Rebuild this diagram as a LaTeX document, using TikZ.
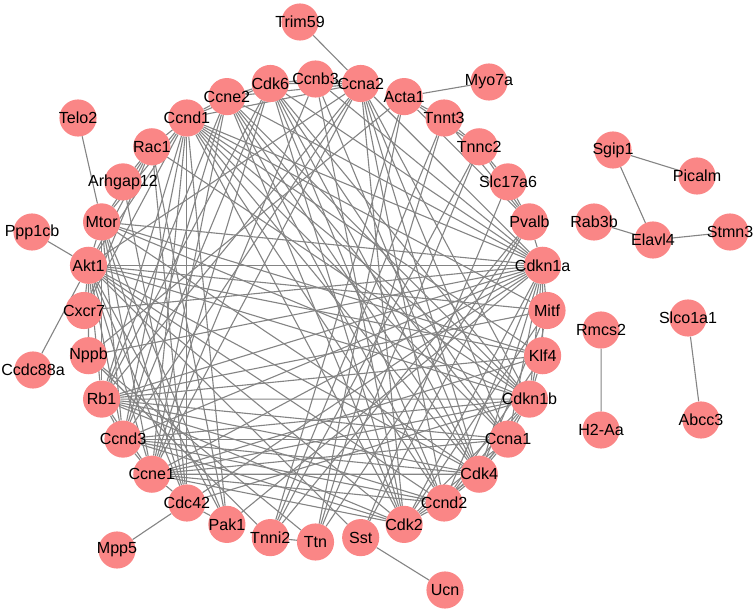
\documentclass[tikz,border=0pt]{standalone}
\usepackage{fontspec}
\setmainfont{Liberation Sans}
\usepackage{tikz}
\definecolor{genepink}{RGB}{250,134,134}
\definecolor{linkgray}{RGB}{132,132,132}
\pgfdeclarelayer{background}
\pgfsetlayers{background,main}

\begin{document}
\begin{tikzpicture}[scale=0.35]
\tikzstyle{every node}+=[inner sep=0pt]
\tikzstyle{gene}=[circle,fill=genepink,minimum size=1.3cm]
\tikzstyle{genetext}=[font=\fontsize{16}{19}\selectfont]
\tikzstyle{link}=[linkgray,line width=1.1pt]
\useasboundingbox (0,0) rectangle (75.6,-61.3);
% ring
\node [gene] (Ccnb3) at (31.55,-7.90) {};
\node [gene] (Ccna2) at (36.07,-8.35) {};
\node [gene] (Acta1) at (40.41,-9.66) {};
\node [gene] (Tnnt3) at (44.41,-11.80) {};
\node [gene] (Tnnc2) at (47.92,-14.68) {};
\node [gene] (Slc17a6) at (50.80,-18.19) {};
\node [gene] (Pvalb) at (52.94,-22.19) {};
\node [gene] (Cdkn1a) at (54.26,-26.53) {};
\node [gene] (Mitf) at (54.70,-31.05) {};
\node [gene] (Klf4) at (54.26,-35.57) {};
\node [gene] (Cdkn1b) at (52.94,-39.91) {};
\node [gene] (Ccna1) at (50.80,-43.91) {};
\node [gene] (Cdk4) at (47.92,-47.42) {};
\node [gene] (Ccnd2) at (44.41,-50.30) {};
\node [gene] (Cdk2) at (40.41,-52.44) {};
\node [gene] (Sst) at (36.07,-53.76) {};
\node [gene] (Ttn) at (31.55,-54.20) {};
\node [gene] (Tnni2) at (27.03,-53.76) {};
\node [gene] (Pak1) at (22.69,-52.44) {};
\node [gene] (Cdc42) at (18.69,-50.30) {};
\node [gene] (Ccne1) at (15.18,-47.42) {};
\node [gene] (Ccnd3) at (12.30,-43.91) {};
\node [gene] (Rb1) at (10.16,-39.91) {};
\node [gene] (Nppb) at (8.85,-35.57) {};
\node [gene] (Cxcr7) at (8.40,-31.05) {};
\node [gene] (Akt1) at (8.85,-26.53) {};
\node [gene] (Mtor) at (10.16,-22.19) {};
\node [gene] (Arhgap12) at (12.30,-18.19) {};
\node [gene] (Rac1) at (15.18,-14.68) {};
\node [gene] (Ccnd1) at (18.69,-11.80) {};
\node [gene] (Ccne2) at (22.69,-9.66) {};
\node [gene] (Cdk6) at (27.03,-8.35) {};
% outside the ring
\node [gene] (Trim59) at (30.0,-2.2) {};
\node [gene] (Myo7a) at (48.9,-8.2) {};
\node [gene] (Telo2) at (7.8,-11.8) {};
\node [gene] (Ppp1cb) at (3.2,-23.2) {};
\node [gene] (Ccdc88a) at (3.3,-37.0) {};
\node [gene] (Mpp5) at (11.7,-55.0) {};
\node [gene] (Ucn) at (44.5,-59.0) {};
\node [gene] (Sgip1) at (61.3,-15.0) {};
\node [gene] (Picalm) at (69.7,-17.6) {};
\node [gene] (Rab3b) at (59.4,-22.2) {};
\node [gene] (Elavl4) at (65.3,-24.0) {};
\node [gene] (Stmn3) at (73.0,-23.2) {};
\node [gene] (Rmcs2) at (60.1,-33.0) {};
\node [gene] (Slco1a1) at (68.8,-31.8) {};
\node [gene] (H2Aa) at (60.1,-43.0) {};
\node [gene] (Abcc3) at (70.1,-42.0) {};
% labels
\node [genetext] (tCcnb3) at (Ccnb3) {Ccnb3};
\node [genetext] (tCcna2) at (Ccna2) {Ccna2};
\node [genetext] (tActa1) at (Acta1) {Acta1};
\node [genetext] (tTnnt3) at (Tnnt3) {Tnnt3};
\node [genetext] (tTnnc2) at (Tnnc2) {Tnnc2};
\node [genetext] (tSlc17a6) at (Slc17a6) {Slc17a6};
\node [genetext] (tPvalb) at (Pvalb) {Pvalb};
\node [genetext] (tCdkn1a) at (Cdkn1a) {Cdkn1a};
\node [genetext] (tMitf) at (Mitf) {Mitf};
\node [genetext] (tKlf4) at (Klf4) {Klf4};
\node [genetext] (tCdkn1b) at (Cdkn1b) {Cdkn1b};
\node [genetext] (tCcna1) at (Ccna1) {Ccna1};
\node [genetext] (tCdk4) at (Cdk4) {Cdk4};
\node [genetext] (tCcnd2) at (Ccnd2) {Ccnd2};
\node [genetext] (tCdk2) at (Cdk2) {Cdk2};
\node [genetext] (tSst) at (Sst) {Sst};
\node [genetext] (tTtn) at (Ttn) {Ttn};
\node [genetext] (tTnni2) at (Tnni2) {Tnni2};
\node [genetext] (tPak1) at (Pak1) {Pak1};
\node [genetext] (tCdc42) at (Cdc42) {Cdc42};
\node [genetext] (tCcne1) at (Ccne1) {Ccne1};
\node [genetext] (tCcnd3) at (Ccnd3) {Ccnd3};
\node [genetext] (tRb1) at (Rb1) {Rb1};
\node [genetext] (tNppb) at (Nppb) {Nppb};
\node [genetext] (tCxcr7) at (Cxcr7) {Cxcr7};
\node [genetext] (tAkt1) at (Akt1) {Akt1};
\node [genetext] (tMtor) at (Mtor) {Mtor};
\node [genetext] (tArhgap12) at (Arhgap12) {Arhgap12};
\node [genetext] (tRac1) at (Rac1) {Rac1};
\node [genetext] (tCcnd1) at (Ccnd1) {Ccnd1};
\node [genetext] (tCcne2) at (Ccne2) {Ccne2};
\node [genetext] (tCdk6) at (Cdk6) {Cdk6};
\node [genetext] (tTrim59) at (Trim59) {Trim59};
\node [genetext] (tMyo7a) at (Myo7a) {Myo7a};
\node [genetext] (tTelo2) at (Telo2) {Telo2};
\node [genetext] (tPpp1cb) at (Ppp1cb) {Ppp1cb};
\node [genetext] (tCcdc88a) at (Ccdc88a) {Ccdc88a};
\node [genetext] (tMpp5) at (Mpp5) {Mpp5};
\node [genetext] (tUcn) at (Ucn) {Ucn};
\node [genetext] (tSgip1) at (Sgip1) {Sgip1};
\node [genetext] (tPicalm) at (Picalm) {Picalm};
\node [genetext] (tRab3b) at (Rab3b) {Rab3b};
\node [genetext] (tElavl4) at (Elavl4) {Elavl4};
\node [genetext] (tStmn3) at (Stmn3) {Stmn3};
\node [genetext] (tRmcs2) at (Rmcs2) {Rmcs2};
\node [genetext] (tSlco1a1) at (Slco1a1) {Slco1a1};
\node [genetext] (tH2Aa) at (H2Aa) {H2-Aa};
\node [genetext] (tAbcc3) at (Abcc3) {Abcc3};
% interactions
\begin{pgfonlayer}{background}
\draw [link] (Ccna2) -- (Cdkn1a);
\draw [link] (Ccna2) -- (Cdkn1b);
\draw [link] (Ccna2) -- (Ccna1);
\draw [link] (Ccna2) -- (Cdk4);
\draw [link] (Ccna2) -- (Ccnd2);
\draw [link] (Ccna2) -- (Cdk2);
\draw [link] (Ccna2) -- (Ccne1);
\draw [link] (Ccna2) -- (Ccnd3);
\draw [link] (Ccna2) -- (Rb1);
\draw [link] (Ccna2) -- (Ccnd1);
\draw [link] (Ccna2) -- (Ccne2);
\draw [link] (Ccna2) -- (Cdk6);
\draw [link] (Ccna2) -- (Ccnb3);
\draw [link] (Ccna2) -- (Trim59);
\draw [link] (Ccna2) -- (Akt1);
\draw [link] (Cdkn1a) -- (Cdkn1b);
\draw [link] (Cdkn1a) -- (Ccna1);
\draw [link] (Cdkn1a) -- (Cdk4);
\draw [link] (Cdkn1a) -- (Ccnd2);
\draw [link] (Cdkn1a) -- (Cdk2);
\draw [link] (Cdkn1a) -- (Ccne1);
\draw [link] (Cdkn1a) -- (Ccnd3);
\draw [link] (Cdkn1a) -- (Rb1);
\draw [link] (Cdkn1a) -- (Ccnd1);
\draw [link] (Cdkn1a) -- (Ccne2);
\draw [link] (Cdkn1a) -- (Cdk6);
\draw [link] (Cdkn1a) -- (Ccnb3);
\draw [link] (Cdkn1a) -- (Akt1);
\draw [link] (Cdkn1a) -- (Mtor);
\draw [link] (Cdkn1a) -- (Mitf);
\draw [link] (Cdkn1a) -- (Klf4);
\draw [link] (Cdkn1a) -- (Cdc42);
\draw [link] (Cdkn1a) -- (Pak1);
\draw [link] (Cdkn1a) -- (Cxcr7);
\draw [link] (Cdkn1a) -- (Nppb);
\draw [link] (Cdkn1a) -- (Pvalb);
\draw [link] (Cdkn1b) -- (Ccna1);
\draw [link] (Cdkn1b) -- (Cdk4);
\draw [link] (Cdkn1b) -- (Ccnd2);
\draw [link] (Cdkn1b) -- (Cdk2);
\draw [link] (Cdkn1b) -- (Ccne1);
\draw [link] (Cdkn1b) -- (Ccnd3);
\draw [link] (Cdkn1b) -- (Rb1);
\draw [link] (Cdkn1b) -- (Ccnd1);
\draw [link] (Cdkn1b) -- (Ccne2);
\draw [link] (Cdkn1b) -- (Cdk6);
\draw [link] (Cdkn1b) -- (Akt1);
\draw [link] (Cdkn1b) -- (Mtor);
\draw [link] (Cdkn1b) -- (Klf4);
\draw [link] (Cdkn1b) -- (Mitf);
\draw [link] (Cdkn1b) -- (Rac1);
\draw [link] (Cdkn1b) -- (Cdc42);
\draw [link] (Ccna1) -- (Cdk4);
\draw [link] (Ccna1) -- (Ccnd2);
\draw [link] (Ccna1) -- (Cdk2);
\draw [link] (Ccna1) -- (Ccne1);
\draw [link] (Ccna1) -- (Ccnd3);
\draw [link] (Ccna1) -- (Rb1);
\draw [link] (Ccna1) -- (Ccnd1);
\draw [link] (Ccna1) -- (Ccne2);
\draw [link] (Ccna1) -- (Cdk6);
\draw [link] (Cdk4) -- (Ccnd2);
\draw [link] (Cdk4) -- (Cdk2);
\draw [link] (Cdk4) -- (Ccne1);
\draw [link] (Cdk4) -- (Ccnd3);
\draw [link] (Cdk4) -- (Rb1);
\draw [link] (Cdk4) -- (Ccnd1);
\draw [link] (Cdk4) -- (Ccne2);
\draw [link] (Cdk4) -- (Cdk6);
\draw [link] (Cdk4) -- (Akt1);
\draw [link] (Cdk4) -- (Mtor);
\draw [link] (Cdk4) -- (Mitf);
\draw [link] (Cdk4) -- (Ccnb3);
\draw [link] (Ccnd2) -- (Cdk2);
\draw [link] (Ccnd2) -- (Ccne1);
\draw [link] (Ccnd2) -- (Ccnd3);
\draw [link] (Ccnd2) -- (Rb1);
\draw [link] (Ccnd2) -- (Ccnd1);
\draw [link] (Ccnd2) -- (Ccne2);
\draw [link] (Ccnd2) -- (Cdk6);
\draw [link] (Ccnd2) -- (Klf4);
\draw [link] (Ccnd2) -- (Akt1);
\draw [link] (Cdk2) -- (Ccne1);
\draw [link] (Cdk2) -- (Ccnd3);
\draw [link] (Cdk2) -- (Rb1);
\draw [link] (Cdk2) -- (Ccnd1);
\draw [link] (Cdk2) -- (Ccne2);
\draw [link] (Cdk2) -- (Cdk6);
\draw [link] (Cdk2) -- (Ccnb3);
\draw [link] (Cdk2) -- (Akt1);
\draw [link] (Cdk2) -- (Mitf);
\draw [link] (Ccne1) -- (Ccnd3);
\draw [link] (Ccne1) -- (Rb1);
\draw [link] (Ccne1) -- (Ccnd1);
\draw [link] (Ccne1) -- (Ccne2);
\draw [link] (Ccne1) -- (Cdk6);
\draw [link] (Ccne1) -- (Akt1);
\draw [link] (Ccne1) -- (Mtor);
\draw [link] (Ccne1) -- (Cdc42);
\draw [link] (Ccne1) -- (Ccnb3);
\draw [link] (Ccne1) -- (Klf4);
\draw [link] (Ccnd3) -- (Rb1);
\draw [link] (Ccnd3) -- (Ccnd1);
\draw [link] (Ccnd3) -- (Ccne2);
\draw [link] (Ccnd3) -- (Cdk6);
\draw [link] (Ccnd3) -- (Akt1);
\draw [link] (Ccnd3) -- (Mtor);
\draw [link] (Rb1) -- (Ccnd1);
\draw [link] (Rb1) -- (Ccne2);
\draw [link] (Rb1) -- (Cdk6);
\draw [link] (Rb1) -- (Akt1);
\draw [link] (Rb1) -- (Mtor);
\draw [link] (Rb1) -- (Mitf);
\draw [link] (Rb1) -- (Klf4);
\draw [link] (Ccnd1) -- (Ccne2);
\draw [link] (Ccnd1) -- (Cdk6);
\draw [link] (Ccnd1) -- (Akt1);
\draw [link] (Ccnd1) -- (Mtor);
\draw [link] (Ccnd1) -- (Rac1);
\draw [link] (Ccnd1) -- (Cdc42);
\draw [link] (Ccnd1) -- (Pak1);
\draw [link] (Ccnd1) -- (Mitf);
\draw [link] (Ccnd1) -- (Klf4);
\draw [link] (Ccnd1) -- (Cxcr7);
\draw [link] (Ccne2) -- (Cdk6);
\draw [link] (Cdk6) -- (Ccnb3);
\draw [link] (Akt1) -- (Mtor);
\draw [link] (Akt1) -- (Cxcr7);
\draw [link] (Akt1) -- (Nppb);
\draw [link] (Akt1) -- (Rac1);
\draw [link] (Akt1) -- (Cdc42);
\draw [link] (Akt1) -- (Pak1);
\draw [link] (Akt1) -- (Klf4);
\draw [link] (Akt1) -- (Mitf);
\draw [link] (Akt1) -- (Ppp1cb);
\draw [link] (Akt1) -- (Ccdc88a);
\draw [link] (Akt1) -- (Sst);
\draw [link] (Mtor) -- (Rac1);
\draw [link] (Mtor) -- (Pak1);
\draw [link] (Mtor) -- (Klf4);
\draw [link] (Mtor) -- (Telo2);
\draw [link] (Mtor) -- (Cdc42);
\draw [link] (Rac1) -- (Arhgap12);
\draw [link] (Rac1) -- (Cdc42);
\draw [link] (Rac1) -- (Pak1);
\draw [link] (Rac1) -- (Cxcr7);
\draw [link] (Arhgap12) -- (Cdc42);
\draw [link] (Cdc42) -- (Pak1);
\draw [link] (Cdc42) -- (Mpp5);
\draw [link] (Acta1) -- (Tnnt3);
\draw [link] (Acta1) -- (Tnnc2);
\draw [link] (Acta1) -- (Tnni2);
\draw [link] (Acta1) -- (Ttn);
\draw [link] (Acta1) -- (Pvalb);
\draw [link] (Acta1) -- (Myo7a);
\draw [link] (Acta1) -- (Nppb);
\draw [link] (Tnnt3) -- (Tnnc2);
\draw [link] (Tnnt3) -- (Tnni2);
\draw [link] (Tnnt3) -- (Ttn);
\draw [link] (Tnnt3) -- (Pvalb);
\draw [link] (Tnnc2) -- (Tnni2);
\draw [link] (Tnnc2) -- (Ttn);
\draw [link] (Tnnc2) -- (Pvalb);
\draw [link] (Tnnc2) -- (Slc17a6);
\draw [link] (Tnni2) -- (Ttn);
\draw [link] (Tnni2) -- (Pvalb);
\draw [link] (Ttn) -- (Pvalb);
\draw [link] (Nppb) -- (Ttn);
\draw [link] (Nppb) -- (Tnni2);
\draw [link] (Slc17a6) -- (Pvalb);
\draw [link] (Slc17a6) -- (Sst);
\draw [link] (Sst) -- (Pvalb);
\draw [link] (Sst) -- (Ucn);
\draw [link] (Sgip1) -- (Picalm);
\draw [link] (Sgip1) -- (Elavl4);
\draw [link] (Rab3b) -- (Elavl4);
\draw [link] (Elavl4) -- (Stmn3);
\draw [link] (Rmcs2) -- (H2Aa);
\draw [link] (Slco1a1) -- (Abcc3);
\end{pgfonlayer}
\end{tikzpicture}
\end{document}
